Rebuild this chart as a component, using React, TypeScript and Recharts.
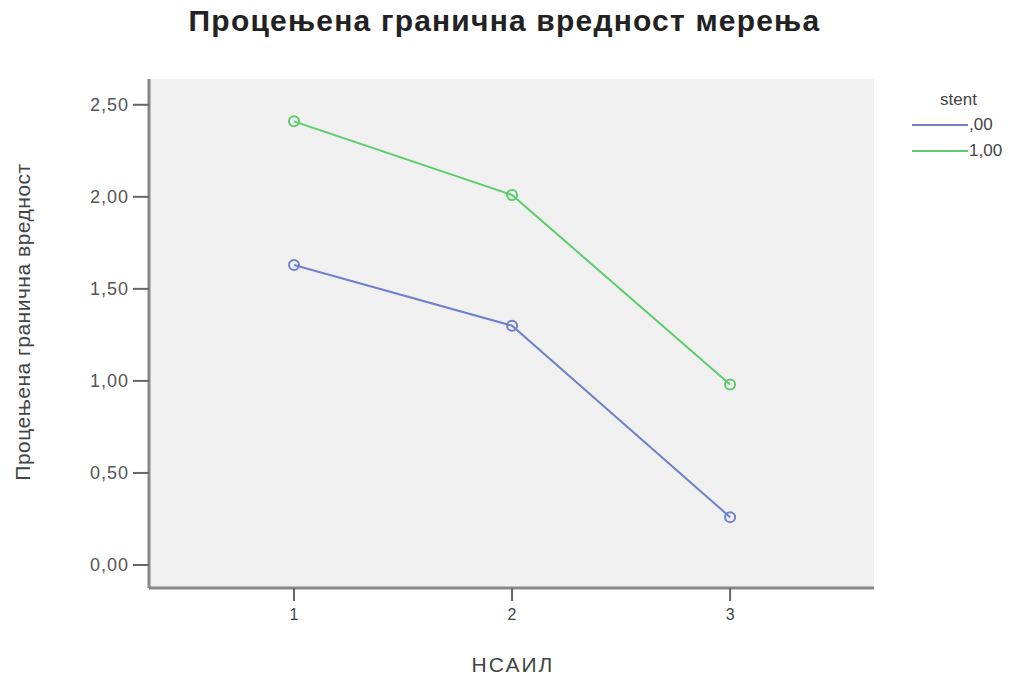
import React from 'react';
import { LineChart, Line, XAxis, YAxis, CartesianGrid } from 'recharts';

const categories = [1, 2, 3];
const stent00 = [1.63, 1.3, 0.26];
const stent100 = [2.41, 2.01, 0.98];
const yTicks = [0, 0.5, 1, 1.5, 2, 2.5];
const seriesNames = [',00', '1,00'];

const BLUE = '#6f82c9';
const GREEN = '#5dcc6c';
const FONT = '"Liberation Sans", Arial, sans-serif';

const data = categories.map((c, i) => ({ x: c, s0: stent00[i], s1: stent100[i] }));

const fmt = (v: number) => v.toFixed(2).replace('.', ',');

// legend drawn beside the chart so it doesn't eat into the plot width
const LegendBox = () => (
  <div style={{ position: 'absolute', left: 912, top: 90, fontFamily: FONT, color: '#444', fontSize: 17 }}>
    <div style={{ marginLeft: 28, marginBottom: 2 }}>stent</div>
    {seriesNames.map((name, i) => (
      <div key={name} style={{ display: 'flex', alignItems: 'center', height: 26 }}>
        <div style={{ width: 56, height: 2, background: i === 0 ? BLUE : GREEN }} />
        <span style={{ marginLeft: 1 }}>{name}</span>
      </div>
    ))}
  </div>
);

export default function App() {
  return (
    <div style={{ position: 'absolute', left: 0, top: 0, width: 1009, height: 677, background: '#fff' }}>
      <div
        style={{
          position: 'absolute',
          left: 0,
          width: 1009,
          top: 4,
          textAlign: 'center',
          fontFamily: FONT,
          fontWeight: 'bold',
          fontSize: 30,
          letterSpacing: 1.2,
          color: '#222',
        }}
      >
        Процењена гранична вредност мерења
      </div>
      <LineChart width={1009} height={677} data={data} margin={{ top: 79, right: 135, bottom: 0, left: 0 }}>
        <CartesianGrid fill="#f0f0f0" horizontal={false} vertical={false} />
        <XAxis
          dataKey="x"
          type="number"
          domain={[0.335, 3.66]}
          ticks={categories}
          height={89}
          tickSize={13}
          tickMargin={8}
          axisLine={{ stroke: '#888', strokeWidth: 3 }}
          tickLine={{ stroke: '#666', strokeWidth: 2 }}
          tick={{ fill: '#444', fontSize: 16, fontFamily: FONT }}
          label={{
            content: () => (
              <text x={513} y={672} textAnchor="middle" fill="#444" fontSize={21} fontFamily={FONT} letterSpacing={2}>
                НСАИЛ
              </text>
            ),
          }}
        />
        <XAxis xAxisId="top" orientation="top" dataKey="x" type="number" domain={[0.335, 3.66]} height={0} tick={false} tickLine={false} axisLine={{ stroke: '#b0b0b0', strokeWidth: 3 }} />
        <YAxis
          type="number"
          domain={[-0.125, 2.64]}
          ticks={yTicks}
          width={149}
          tickSize={16}
          tickMargin={4}
          tickFormatter={fmt}
          axisLine={{ stroke: '#888', strokeWidth: 3 }}
          tickLine={{ stroke: '#666', strokeWidth: 2 }}
          tick={{ fill: '#555', fontSize: 18, fontFamily: FONT, letterSpacing: 1 }}
          label={{
            content: () => (
              <text x={30} y={322} transform="rotate(-90 30 322)" textAnchor="middle" fill="#444" fontSize={21} fontFamily={FONT} letterSpacing={0.5}>
                Процењена гранична вредност
              </text>
            ),
          }}
        />
        <YAxis yAxisId="right" orientation="right" type="number" domain={[-0.125, 2.64]} width={0} tick={false} tickLine={false} axisLine={{ stroke: '#999', strokeWidth: 3 }} />
        <Line
          dataKey="s0"
          name={seriesNames[0]}
          stroke={BLUE}
          strokeWidth={2}
          dot={{ r: 5, stroke: BLUE, strokeWidth: 2, fill: 'none' }}
          isAnimationActive={false}
        />
        <Line
          dataKey="s1"
          name={seriesNames[1]}
          stroke={GREEN}
          strokeWidth={2}
          dot={{ r: 5, stroke: GREEN, strokeWidth: 2, fill: 'none' }}
          isAnimationActive={false}
        />
      </LineChart>
      <LegendBox />
    </div>
  );
}
